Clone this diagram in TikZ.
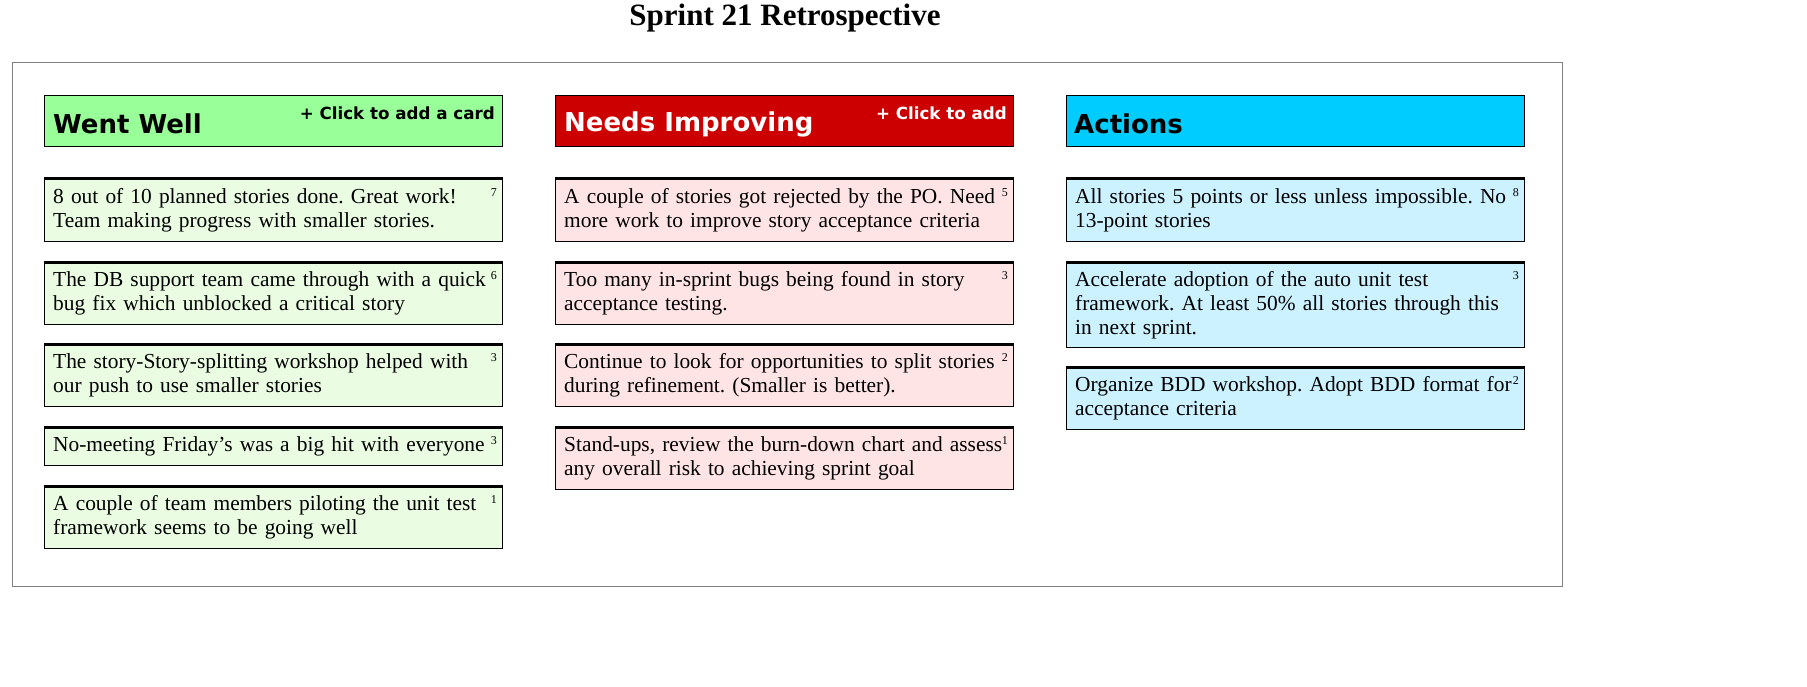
\documentclass[tikz,border=0pt]{standalone}
\usepackage{fontspec}
\setmainfont{Liberation Serif}
\newfontfamily\headfont{DejaVu Sans}
\usetikzlibrary{positioning}
\definecolor{wellhead}{HTML}{99FF99}
\definecolor{wellcard}{HTML}{EAFCE2}
\definecolor{needhead}{HTML}{CC0000}
\definecolor{needcard}{HTML}{FFE4E6}
\definecolor{acthead}{HTML}{00CCFF}
\definecolor{actcard}{HTML}{CCF2FF}
\frenchspacing
\tikzset{
  colhead/.style={draw=black, line width=1pt, anchor=north west, minimum width=458pt, minimum height=51pt, inner sep=0pt},
  headtext/.style={anchor=west, font=\headfont\bfseries\fontsize{26}{30}\selectfont, inner sep=0pt},
  addtext/.style={anchor=north east, font=\headfont\bfseries\fontsize{16.7}{20}\selectfont, inner sep=0pt},
  cardbox/.style={draw=black, line width=1pt, anchor=north west, minimum width=458pt, inner sep=0pt},
  cardtext/.style={anchor=north west, text width=446pt, align=left, inner sep=0pt, font=\fontsize{21.4}{24}\selectfont},
  votes/.style={anchor=north east, inner sep=0pt, font=\fontsize{12}{14}\selectfont}
}
\newcommand{\card}[7]{%
  \node[cardbox, fill=#5, minimum height=#4pt] (#1) at (#2,#3) {};
  \draw[line width=3pt] (#1.north west) -- (#1.north east);
  \node[cardtext] (#1t) at ([xshift=9pt,yshift=-9pt]#1.north west) {\hyphenchar\font=-1 #6};
  \node[votes] (#1n) at ([xshift=-6pt,yshift=-9pt]#1.north east) {#7};
}
\begin{document}
\begin{tikzpicture}[x=1pt,y=-1pt]
\useasboundingbox (0,0) rectangle (1807,687);
\node[font=\bfseries\fontsize{31}{36}\selectfont] (title) at (785,18) {Sprint 21 Retrospective};
\draw[line width=0.8pt, draw=gray] (12,62) rectangle (1562,586);
% column headers
\node[colhead, fill=wellhead] (well) at (44,95) {};
\node[headtext] (wellt) at ([xshift=9pt,yshift=-3pt]well.west) {Went Well};
\node[addtext] (welladd) at ([xshift=-8pt,yshift=-12pt]well.north east) {+ Click to add a card};
\node[colhead, fill=needhead] (need) at (555,95) {};
\node[headtext, white] (needt) at ([xshift=9pt,yshift=-3pt]need.west) {Needs Improving};
\node[addtext, white] (needadd) at ([xshift=-7pt,yshift=-12pt]need.north east) {+ Click to add};
\node[colhead, fill=acthead] (act) at (1066,95) {};
\node[headtext] (actt) at ([xshift=8pt,yshift=-3pt]act.west) {Actions};
% went well
\card{w1}{44}{179}{62}{wellcard}{8 out of 10 planned stories done. Great work! Team making progress with smaller stories.}{7}
\card{w2}{44}{262}{62}{wellcard}{The DB support team came through with a quick bug fix which unblocked a critical story}{6}
\card{w3}{44}{344}{62}{wellcard}{The story-Story-splitting workshop helped with our push to use smaller stories}{3}
\card{w4}{44}{427}{38}{wellcard}{No-meeting Friday's was a big hit with everyone}{3}
\card{w5}{44}{486}{62}{wellcard}{A couple of team members piloting the unit test framework seems to be going well}{1}
% needs improving
\card{n1}{555}{179}{62}{needcard}{A couple of stories got rejected by the PO. Need more work to improve story acceptance criteria}{5}
\card{n2}{555}{262}{62}{needcard}{Too many in-sprint bugs being found in story acceptance testing.}{3}
\card{n3}{555}{344}{62}{needcard}{Continue to look for opportunities to split stories during refinement. (Smaller is better).}{2}
\card{n4}{555}{427}{62}{needcard}{Stand-ups, review the burn-down chart and assess any overall risk to achieving sprint goal}{1}
% actions
\card{a1}{1066}{179}{62}{actcard}{All stories 5 points or less unless impossible. No 13-point stories}{8}
\card{a2}{1066}{262}{85}{actcard}{Accelerate adoption of the auto unit test framework. At least 50\% all stories through this in next sprint.}{3}
\card{a3}{1066}{367}{62}{actcard}{Organize BDD workshop. Adopt BDD format for acceptance criteria}{2}
\end{tikzpicture}
\end{document}
